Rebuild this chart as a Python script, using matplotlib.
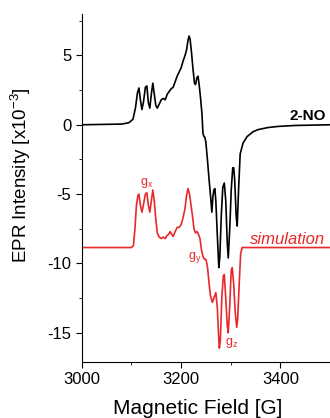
import matplotlib; matplotlib.use("Agg")
import matplotlib.pyplot as plt
from matplotlib.ticker import MultipleLocator

plt.rcParams.update({"font.family": ["Liberation Sans", "DejaVu Sans"], "mathtext.default": "regular",
                     "axes.unicode_minus": False})

RED = "#e8282b"

# experimental spectrum of 2-NO (field in G, intensity in 1e-3)
exp_field = [3000, 3080, 3095, 3103, 3108, 3112, 3115, 3118, 3121, 3124, 3128, 3131, 3134, 3137,
             3140, 3143, 3146, 3149, 3152, 3156, 3160, 3164, 3168, 3172, 3176, 3180, 3184, 3188,
             3192, 3196, 3200, 3204, 3208, 3211, 3214, 3216, 3218, 3221, 3224, 3227, 3229, 3232,
             3234, 3236, 3239, 3242, 3244, 3246, 3248, 3250, 3253, 3256, 3259, 3262, 3264, 3266,
             3268, 3270, 3273, 3276, 3278, 3281, 3284, 3287, 3290, 3293, 3295, 3298, 3301, 3304,
             3306, 3308, 3311, 3313, 3316, 3319, 3325, 3333, 3345, 3355, 3375, 3395, 3430, 3500]
exp_int = [0, 0.05, 0.15, 0.4, 1.2, 2.3, 2.65, 1.8, 1.1, 1.6, 2.7, 2.8, 1.6, 1.2,
           2.2, 3.0, 2.2, 1.4, 1.2, 1.5, 1.8, 1.9, 1.8, 2.2, 2.4, 2.6, 2.7, 3.1,
           3.5, 3.8, 4.1, 4.6, 5.0, 5.4, 6.1, 6.4, 6.2, 5.2, 4.0, 3.0, 2.9, 3.4,
           3.5, 3.0, 2.0, 0.8, -0.6, -0.85, -0.9, -1.3, -2.5, -3.8, -5.0, -6.3, -5.2, -4.7,
           -4.6, -5.5, -8.0, -10.3, -9.5, -6.5, -4.5, -4.2, -5.5, -8.5, -9.6, -7.5, -4.7, -3.1,
           -3.1, -4.0, -6.6, -7.3, -4.5, -2.1, -1.3, -0.85, -0.5, -0.35, -0.2, -0.12, -0.05, 0]

# simulated spectrum (offset)
sim_field = [3000, 3100, 3104, 3107, 3110, 3113, 3115, 3118, 3121, 3124, 3128, 3131, 3134, 3137,
             3140, 3143, 3146, 3149, 3152, 3156, 3160, 3164, 3168, 3171, 3175, 3178, 3181, 3184,
             3188, 3192, 3196, 3200, 3204, 3208, 3211, 3214, 3217, 3220, 3223, 3226, 3229, 3232,
             3235, 3238, 3241, 3244, 3247, 3250, 3253, 3256, 3259, 3263, 3266, 3270, 3273, 3275,
             3277, 3279, 3282, 3285, 3287, 3290, 3293, 3295, 3298, 3301, 3303, 3306, 3309, 3312,
             3314, 3317, 3320, 3323, 3500]
sim_int = [-8.85, -8.85, -8.7, -7.5, -5.8, -5.1, -5.0, -5.8, -6.3, -5.8, -5.0, -4.9, -5.8, -6.3,
           -5.5, -4.7, -5.5, -6.8, -7.8, -8.1, -8.2, -8.1, -8.2, -8.0, -7.9, -7.7, -7.9, -8.05,
           -7.7, -7.4, -7.4, -7.2, -6.7, -6.0, -5.1, -4.6, -5.0, -5.8, -6.6, -7.5, -7.8, -7.7,
           -7.9, -8.2, -9.0, -9.5, -9.7, -9.7, -10.2, -11.3, -12.3, -12.8, -12.5, -12.1, -13.2, -14.8,
           -16.1, -15.6, -12.5, -10.9, -10.8, -12.5, -14.5, -15.0, -13.0, -10.5, -10.3, -11.5, -13.5, -14.6,
           -14.0, -11.5, -9.3, -8.85, -8.85]

g_labels = ["g$_x$", "g$_y$", "g$_z$"]
g_pos = [(3131, -4.2), (3228, -9.6), (3301, -15.7)]

fig = plt.figure(figsize=(3.3, 4.18), dpi=100)
ax = fig.add_axes([0.248, 0.134, 0.752, 0.833])
ax.plot(exp_field, exp_int, color="black", lw=1.2)
ax.plot(sim_field, sim_int, color=RED, lw=1.2)

ax.text(3491, 0.1, "2-NO", fontsize=11, fontweight="bold", ha="right", va="bottom")
ax.text(3491, -8.6, "simulation", fontsize=12, style="italic", color=RED, ha="right", va="baseline")
for lab, (x, y) in zip(g_labels, g_pos):
    ax.text(x, y, lab, fontsize=9, color=RED, ha="center", va="center")

ax.set_xlim(3000, 3500)
ax.set_ylim(-17.1, 8)
ax.xaxis.set_major_locator(MultipleLocator(200))
ax.xaxis.set_minor_locator(MultipleLocator(100))
ax.yaxis.set_major_locator(MultipleLocator(5))
ax.yaxis.set_minor_locator(MultipleLocator(2.5))
ax.tick_params(which="major", length=4, labelsize=12)
ax.tick_params(which="minor", length=2.5)
for s in ("top", "right"):
    ax.spines[s].set_visible(False)
ax.set_xlabel("Magnetic Field [G]", fontsize=15)
ax.set_ylabel("EPR Intensity [x10$^{-3}$]", fontsize=13.5)
ax.xaxis.set_label_coords(0.466, -0.105)
ax.yaxis.set_label_coords(-0.198, 0.537)

fig.savefig("out.png", dpi=100)
